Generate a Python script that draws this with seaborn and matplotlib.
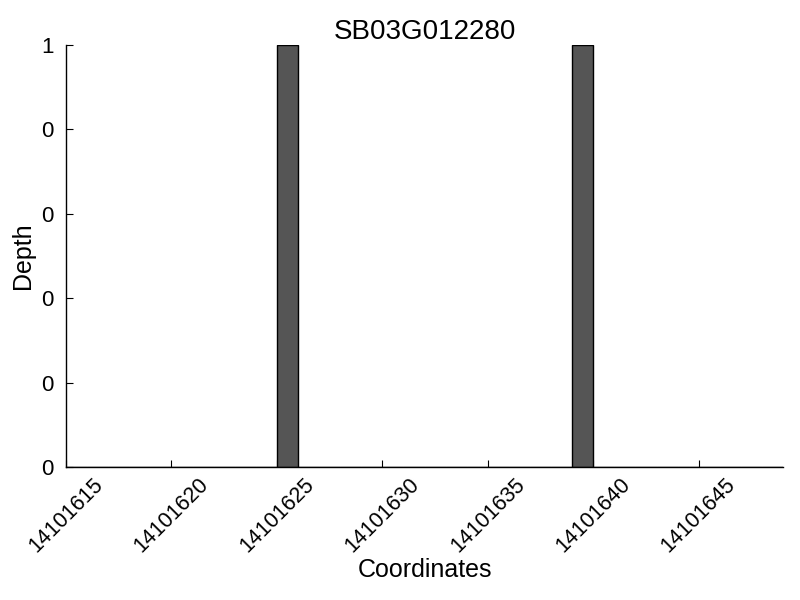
import matplotlib

matplotlib.use("Agg")
import matplotlib.pyplot as plt
import pandas as pd
import seaborn as sns
from matplotlib.ticker import FormatStrFormatter, FixedLocator

# Coverage: depth 1 at two coordinates, zero elsewhere.
region_start = 14101615
region_end = 14101649
covered_coords = [14101625, 14101639]
covered_depth = [1, 1]
x_ticks = [14101615, 14101620, 14101625, 14101630, 14101635, 14101640, 14101645]
y_ticks = [0.0, 0.2, 0.4, 0.6, 0.8, 1.0]

sns.set_style("ticks")
plt.rcParams["font.family"] = ["Liberation Sans", "DejaVu Sans"]
plt.rcParams["text.color"] = "black"
plt.rcParams["axes.labelcolor"] = "black"

df = pd.DataFrame({"coord": covered_coords, "depth": covered_depth})

fig = plt.figure(figsize=(8, 6), dpi=100)
ax = fig.add_axes([0.0825, 0.2217, 0.8963, 0.7033])

# Edge-aligned 1 bp bins over the whole region, weighted by depth.
sns.histplot(
    data=df,
    x="coord",
    weights="depth",
    binwidth=1,
    binrange=(region_start, region_end),
    color="#555555",
    edgecolor="black",
    linewidth=1,
    alpha=1,
    ax=ax,
)

ax.set_xlim(region_start, region_end)
ax.set_ylim(0, 1)
ax.xaxis.set_major_locator(FixedLocator(x_ticks))
ax.xaxis.set_major_formatter(FormatStrFormatter("%d"))
ax.set_yticks(y_ticks)
ax.yaxis.set_major_formatter(FormatStrFormatter("%d"))

sns.despine(ax=ax)
ax.tick_params(axis="both", direction="in", length=5, width=0.8, colors="black")
ax.tick_params(axis="x", pad=5, labelsize=15.5)
ax.tick_params(axis="y", pad=9, labelsize=16)
for label in ax.get_xticklabels():
    label.set_rotation(45)

for side in ("left", "bottom"):
    ax.spines[side].set_color("black")
    ax.spines[side].set_linewidth(1)

ax.set_title("SB03G012280", fontsize=20, pad=4)
ax.set_xlabel("Coordinates", fontsize=18, labelpad=1)
ax.set_ylabel("Depth", fontsize=18)

fig.savefig("out.png", dpi=100)
